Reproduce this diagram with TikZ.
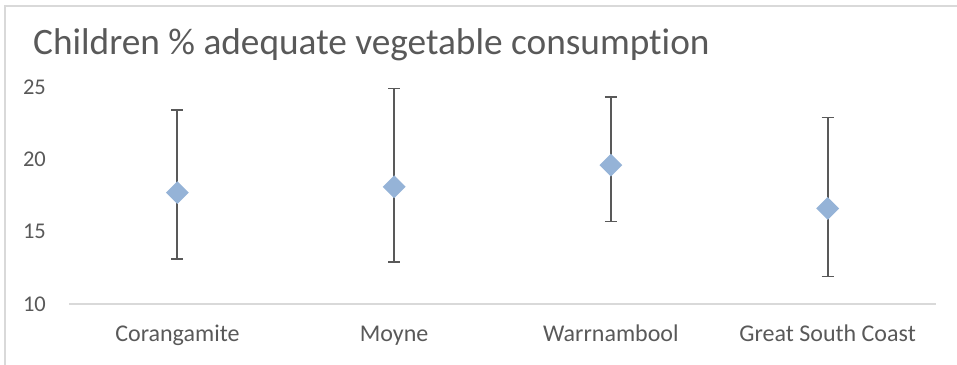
\documentclass[tikz,border=0pt]{standalone}
\usepackage{fontspec}
\setmainfont{Carlito}[Ligatures=NoCommon]
\usepackage{tikz}
\usetikzlibrary{shapes.geometric}
\definecolor{framegray}{HTML}{D9D9D9}
\definecolor{textgray}{HTML}{595959}
\definecolor{bargray}{HTML}{595959}
\definecolor{markblue}{HTML}{95B3D7}
\begin{document}
\begin{tikzpicture}[x=1pt,y=1pt]
  \useasboundingbox (0,0) rectangle (957,364);
  \draw[color=framegray,line width=1.2pt] (5,-10) -- (5,358) -- (970,358);
  \node[anchor=base west,inner sep=0pt,text=textgray,font=\fontsize{37.3}{42}\selectfont] (title) at (33,309.7) {Children \% adequate vegetable consumption};
  \begin{scope}[x=216.75pt,y=14.47pt,xshift=-39.35pt,yshift=-84.7pt]
    % axis and value labels
    \draw[color=framegray,line width=1.5pt] (0.5,10) -- (4.5,10);
    \node[anchor=east,inner sep=0pt,text=textgray,font=\fontsize{22.5}{26}\selectfont] (y10) at (0.394,10) {10};
    \node[anchor=east,inner sep=0pt,text=textgray,font=\fontsize{22.5}{26}\selectfont] (y15) at (0.394,15) {15};
    \node[anchor=east,inner sep=0pt,text=textgray,font=\fontsize{22.5}{26}\selectfont] (y20) at (0.394,20) {20};
    \node[anchor=east,inner sep=0pt,text=textgray,font=\fontsize{22.5}{26}\selectfont] (y25) at (0.394,25) {25};
    % error bars
    \draw[color=bargray,line width=2pt] (1,13.1) -- (1,23.4);
    \draw[color=bargray,line width=1.5pt] (1,13.1) ++(-6pt,0) -- ++(12pt,0) (1,23.4) ++(-6pt,0) -- ++(12pt,0);
    \draw[color=bargray,line width=2pt] (2,12.9) -- (2,24.9);
    \draw[color=bargray,line width=1.5pt] (2,12.9) ++(-6pt,0) -- ++(12pt,0) (2,24.9) ++(-6pt,0) -- ++(12pt,0);
    \draw[color=bargray,line width=2pt] (3,15.7) -- (3,24.3);
    \draw[color=bargray,line width=1.5pt] (3,15.7) ++(-6pt,0) -- ++(12pt,0) (3,24.3) ++(-6pt,0) -- ++(12pt,0);
    \draw[color=bargray,line width=2pt] (4,11.9) -- (4,22.9);
    \draw[color=bargray,line width=1.5pt] (4,11.9) ++(-6pt,0) -- ++(12pt,0) (4,22.9) ++(-6pt,0) -- ++(12pt,0);
    % markers
    \node[diamond,fill=markblue,inner sep=0pt,minimum width=23pt,minimum height=23pt] (cor) at (1,17.7) {};
    \node[diamond,fill=markblue,inner sep=0pt,minimum width=23pt,minimum height=23pt] (moy) at (2,18.1) {};
    \node[diamond,fill=markblue,inner sep=0pt,minimum width=23pt,minimum height=23pt] (war) at (3,19.6) {};
    \node[diamond,fill=markblue,inner sep=0pt,minimum width=23pt,minimum height=23pt] (gsc) at (4,16.6) {};
    % category labels
    \node[anchor=base,inner sep=0pt,text=textgray,font=\fontsize{24}{28}\selectfont,yshift=-37.7pt] (corlab) at (1,10) {Corangamite};
    \node[anchor=base,inner sep=0pt,text=textgray,font=\fontsize{24}{28}\selectfont,yshift=-37.7pt] (moylab) at (2,10) {Moyne};
    \node[anchor=base,inner sep=0pt,text=textgray,font=\fontsize{24}{28}\selectfont,yshift=-37.7pt] (warlab) at (3,10) {Warrnambool};
    \node[anchor=base,inner sep=0pt,text=textgray,font=\fontsize{24}{28}\selectfont,yshift=-37.7pt] (gsclab) at (4,10) {Great South Coast};
  \end{scope}
\end{tikzpicture}
\end{document}
